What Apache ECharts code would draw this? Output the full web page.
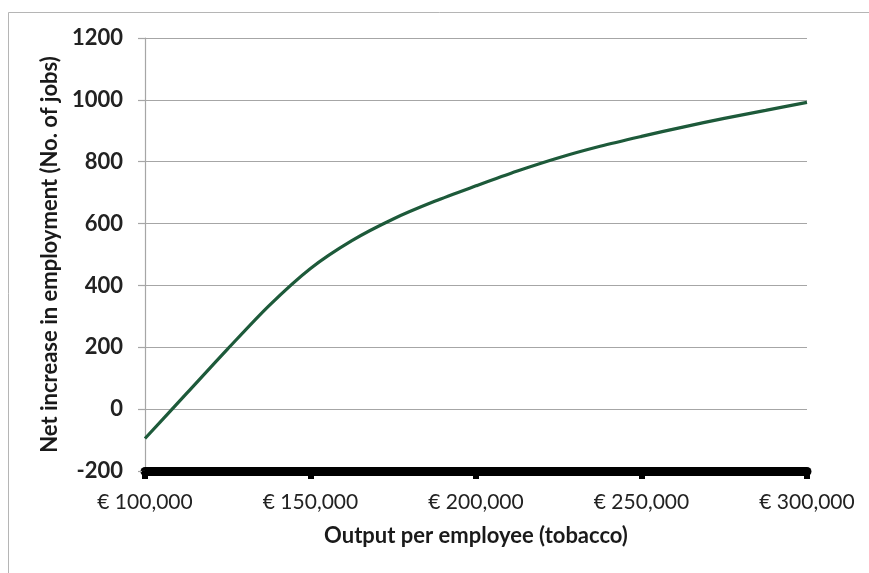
<!DOCTYPE html>
<html>
<head>
<meta charset="utf-8">
<script src="https://cdn.jsdelivr.net/npm/echarts@6/dist/echarts.min.js"></script>
<style>
  html, body { margin: 0; padding: 0; background: #ffffff; }
  #chart { width: 869px; height: 573px; }
</style>
</head>
<body>
<div id="chart"></div>
<script>
// Output per employee (EUR) and the resulting net change in jobs
const outputPerEmployee = [100000, 112500, 125000, 137500, 150000, 162500, 175000, 187500,
  200000, 212500, 225000, 237500, 250000, 262500, 275000, 287500, 300000];
const netJobs = [-95, 50, 195, 335, 455, 545, 615, 672,
  722, 770, 813, 850, 882, 912, 940, 966, 992];

const xTitle = 'Output per employee (tobacco)';
const yTitle = 'Net increase in employment (No. of jobs)';

const font = 'Lato, "Open Sans", sans-serif';

const chart = echarts.init(document.getElementById('chart'), null, { renderer: 'canvas' });

chart.setOption({
  backgroundColor: '#ffffff',
  animation: false,
  graphic: [{
    type: 'rect',
    shape: { x: 8.5, y: 12.5, width: 900, height: 600 },
    style: { fill: 'none', stroke: '#b5b5b5', lineWidth: 1 },
    silent: true
  }],
  grid: { left: 145, right: 62, top: 38, bottom: 102 },
  xAxis: {
    type: 'value',
    min: 100000,
    max: 300000,
    interval: 50000,
    name: xTitle,
    nameLocation: 'middle',
    nameGap: 54,
    nameTextStyle: { fontFamily: font, fontWeight: 'bold', fontSize: 22, color: '#1a1a1a' },
    axisLine: { show: true, onZero: false, lineStyle: { color: '#000000', width: 9 } },
    axisTick: { show: true, length: 8, lineStyle: { color: '#000000', width: 6 } },
    splitLine: { show: false },
    axisLabel: {
      margin: 21,
      fontFamily: font,
      fontSize: 21,
      color: '#222222',
      formatter: v => '€ ' + v.toLocaleString('en-US')
    }
  },
  yAxis: {
    type: 'value',
    min: -200,
    max: 1200,
    interval: 200,
    name: yTitle,
    nameLocation: 'middle',
    nameGap: 80,
    nameTextStyle: { fontFamily: font, fontWeight: 'bold', fontSize: 22, color: '#1a1a1a' },
    axisLine: { show: true, lineStyle: { color: '#a6a6a6', width: 1.2 } },
    axisTick: { show: true, length: 7, lineStyle: { color: '#a6a6a6', width: 1.2 } },
    splitLine: { show: true, lineStyle: { color: '#a6a6a6', width: 1.2 } },
    axisLabel: {
      margin: 22,
      fontFamily: font,
      fontWeight: 'bold',
      fontSize: 22,
      color: '#222222',
      formatter: v => String(v)
    }
  },
  series: [{
    type: 'line',
    data: outputPerEmployee.map((x, i) => [x, netJobs[i]]),
    smooth: 0.3,
    showSymbol: false,
    lineStyle: { color: '#1d5a3a', width: 3.2 },
    z: 5
  }]
});
</script>
</body>
</html>
